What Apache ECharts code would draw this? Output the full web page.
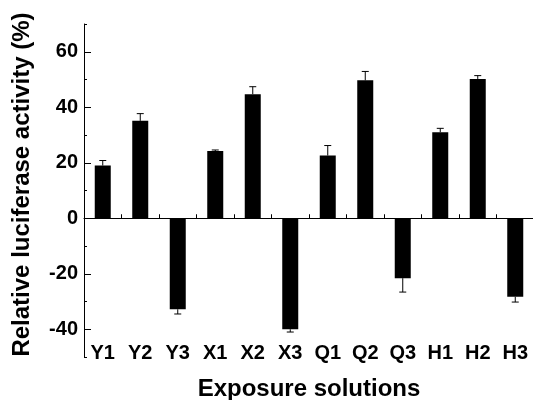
<!DOCTYPE html>
<html>
<head>
<meta charset="utf-8">
<script src="https://cdn.jsdelivr.net/npm/echarts@6/dist/echarts.min.js"></script>
<style>html,body{margin:0;padding:0;background:#fff}#c{width:533px;height:400px}</style>
</head>
<body>
<div id="c"></div>
<script>
const categories = ['Y1','Y2','Y3','X1','X2','X3','Q1','Q2','Q3','H1','H2','H3'];
const values = [19.0, 35.1, -32.8, 24.2, 44.7, -40.0, 22.6, 49.7, -21.6, 31.0, 50.2, -28.3];
const errors = [1.8, 2.6, 1.7, 0.4, 2.7, 1.0, 3.6, 3.2, 5.0, 1.4, 1.2, 1.9];
const yTickLabels = [-40, -20, 0, 20, 40, 60];
const xTitle = 'Exposure solutions';
const yTitle = 'Relative luciferase activity (%)';

const FONT = 'Liberation Sans, Arial, sans-serif';
const chart = echarts.init(document.getElementById('c'), null, {renderer: 'canvas'});
chart.setOption({
  animation: false,
  backgroundColor: '#fff',
  grid: {left: 84, right: -1, top: 24, bottom: 43, containLabel: false, outerBoundsMode: 'none'},
  xAxis: [
    {
      type: 'category', data: categories, position: 'bottom', offset: -14,
      axisLine: {show: false}, axisTick: {show: false},
      axisLabel: {color: '#000', fontWeight: 'bold', fontSize: 20, fontFamily: FONT, margin: 0},
      name: xTitle, nameLocation: 'middle', nameGap: 34,
      nameTextStyle: {color: '#000', fontWeight: 'bold', fontSize: 24, fontFamily: FONT}
    },
    {
      type: 'category', data: categories, position: 'bottom',
      axisLine: {show: true, onZero: true, onZeroAxisIndex: 0, lineStyle: {color: '#000', width: 1}},
      axisTick: {show: true, inside: true, length: 4, lineStyle: {color: '#000', width: 1}},
      axisLabel: {show: false}
    }
  ],
  yAxis: [
    {
      type: 'value', min: -50, max: 70, interval: 10, position: 'left',
      axisLine: {show: true, lineStyle: {color: '#000', width: 1}},
      axisTick: {show: true, inside: true, length: 3, lineStyle: {color: '#000', width: 1}},
      axisLabel: {customValues: yTickLabels, color: '#000', fontWeight: 'bold', fontSize: 20, fontFamily: FONT, margin: 6},
      splitLine: {show: false},
      name: yTitle, nameLocation: 'middle', nameGap: 50, nameRotate: 90,
      nameTextStyle: {color: '#000', fontWeight: 'bold', fontSize: 24, fontFamily: FONT, padding: [0, 0, 0, 12]}
    },
    {
      type: 'value', min: -50, max: 70, interval: 10, position: 'left',
      axisLine: {show: false},
      axisTick: {show: true, inside: true, length: 7, customValues: yTickLabels, lineStyle: {color: '#000', width: 1}},
      axisLabel: {show: false},
      splitLine: {show: false}
    }
  ],
  series: [
    {
      type: 'bar', data: values, xAxisIndex: 0, yAxisIndex: 0, barWidth: 16,
      itemStyle: {color: '#000'}
    },
    {
      type: 'custom', xAxisIndex: 0, yAxisIndex: 0, z: 5,
      data: categories.map((c, i) => [i, values[i], errors[i]]),
      encode: {x: 0, y: 1},
      renderItem: function (params, api) {
        const idx = api.value(0), v = api.value(1), e = api.value(2);
        const end = v >= 0 ? v + e : v - e;
        const p0 = api.coord([idx, v]);
        const p1 = api.coord([idx, end]);
        const hw = 3.5;
        return {
          type: 'group',
          children: [
            {type: 'line', shape: {x1: p0[0], y1: p0[1], x2: p1[0], y2: p1[1]}, style: {stroke: '#000', lineWidth: 1}},
            {type: 'line', shape: {x1: p1[0] - hw, y1: p1[1], x2: p1[0] + hw, y2: p1[1]}, style: {stroke: '#000', lineWidth: 1}}
          ]
        };
      }
    }
  ]
});
</script>
</body>
</html>
